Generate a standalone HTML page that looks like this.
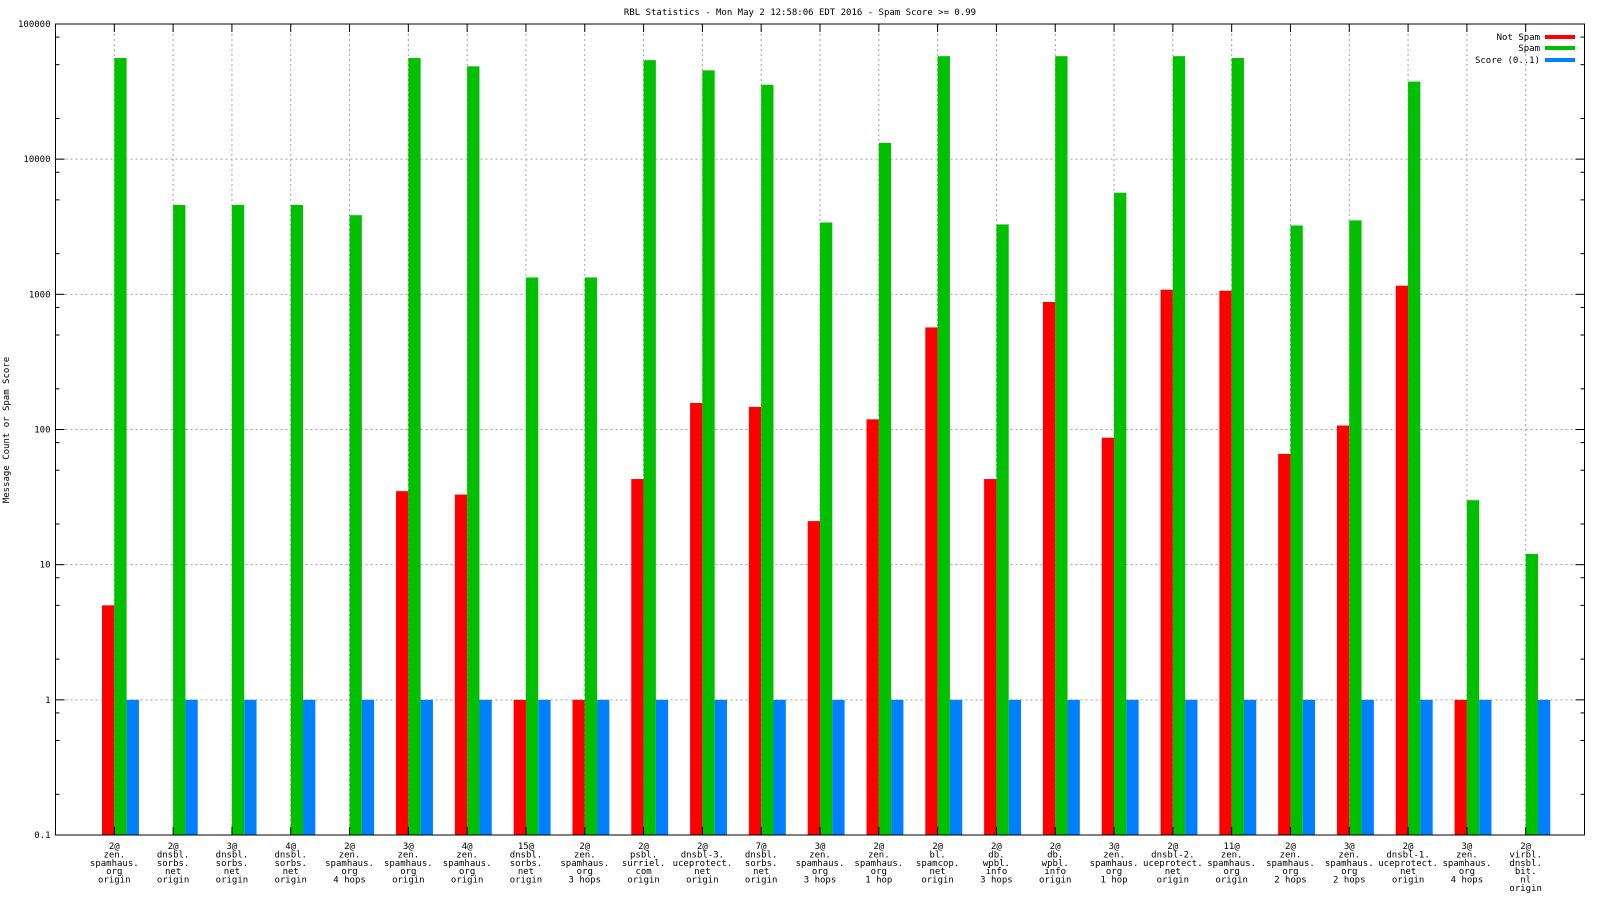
<!DOCTYPE html>
<html><head><meta charset="utf-8"><style>
html,body{margin:0;padding:0;background:#fff;}
svg text{font-family:"DejaVu Sans Mono","Liberation Mono",monospace;font-size:9px;fill:#000;}
</style></head><body>
<svg id="chart" width="1600" height="900" xmlns="http://www.w3.org/2000/svg">
<text x="800" y="15" text-anchor="middle">RBL Statistics - Mon May  2 12:58:06 EDT 2016 - Spam Score &gt;= 0.99</text>
<text transform="translate(9,430) rotate(-90)" text-anchor="middle">Message Count or Spam Score</text>
<g id="grid"></g><g id="bars"></g><g id="axes"></g><g id="labels"></g>
<g>
<text x="1540" y="40" text-anchor="end">Not Spam</text>
<rect x="1545" y="35" width="30" height="4" fill="#ff0000"/>
<text x="1540" y="51" text-anchor="end">Spam</text>
<rect x="1545" y="46" width="30" height="4" fill="#00c000"/>
<text x="1540" y="63" text-anchor="end">Score (0..1)</text>
<rect x="1545" y="58" width="30" height="4" fill="#0080ff"/>
</g>
</svg>
<script>
const categories=[
["2@","zen.","spamhaus.","org","origin"],["2@","dnsbl.","sorbs.","net","origin"],["3@","dnsbl.","sorbs.","net","origin"],["4@","dnsbl.","sorbs.","net","origin"],["2@","zen.","spamhaus.","org","4 hops"],["3@","zen.","spamhaus.","org","origin"],["4@","zen.","spamhaus.","org","origin"],["15@","dnsbl.","sorbs.","net","origin"],["2@","zen.","spamhaus.","org","3 hops"],["2@","psbl.","surriel.","com","origin"],["2@","dnsbl-3.","uceprotect.","net","origin"],["7@","dnsbl.","sorbs.","net","origin"],["3@","zen.","spamhaus.","org","3 hops"],["2@","zen.","spamhaus.","org","1 hop"],["2@","bl.","spamcop.","net","origin"],["2@","db.","wpbl.","info","3 hops"],["2@","db.","wpbl.","info","origin"],["3@","zen.","spamhaus.","org","1 hop"],["2@","dnsbl-2.","uceprotect.","net","origin"],["11@","zen.","spamhaus.","org","origin"],["2@","zen.","spamhaus.","org","2 hops"],["3@","zen.","spamhaus.","org","2 hops"],["2@","dnsbl-1.","uceprotect.","net","origin"],["3@","zen.","spamhaus.","org","4 hops"],["2@","virbl.","dnsbl.","bit.","nl","origin"]];
const notSpam=[5,0,0,0,0,35,33,1,1,43,157,147,21,119,569,43,878,87,1082,1063,66,107,1158,1,0];
const spam=[56000,4580,4580,4580,3850,56000,48600,1333,1333,54000,45400,35500,3400,13200,57800,3290,57800,5640,57800,56000,3230,3525,37500,30,12];
const score=[1,1,1,1,1,1,1,1,1,1,1,1,1,1,1,1,1,1,1,1,1,1,1,1,1];
const yTickLabels=["0.1","1","10","100","1000","10000","100000"];
const yTickValues=[0.1,1,10,100,1000,10000,100000];

const NS="http://www.w3.org/2000/svg";
const L=55.5,R=1584.5,T=24,B=835;
const slot=(R-L)/26, bw=12.3;
function xc(i){return L+slot*(i+1);}
function y(v){return B-(Math.log10(v)-Math.log10(0.1))*(B-T)/6;}
function mk(tag,attrs,parent){const e=document.createElementNS(NS,tag);for(const k in attrs)e.setAttribute(k,attrs[k]);document.getElementById(parent).appendChild(e);return e;}
for(let i=0;i<categories.length;i++){
 const g=mk('line',{x1:xc(i),x2:xc(i),y1:T,y2:B,stroke:'#a0a0a0','stroke-dasharray':'2,3','stroke-width':1},'grid');
 
 
}
yTickValues.forEach(v=>{
 if(v===0.1||v===100000)return;
 const g=mk('line',{x1:L,x2:R,y1:y(v),y2:y(v),stroke:'#a0a0a0','stroke-dasharray':'2,3','stroke-width':1},'grid');
 
 
});
const series=[[notSpam,'#ff0000','not-spam',-1],[spam,'#00c000','spam',0],[score,'#0080ff','score',1]];
series.forEach(([arr,col,nm,off])=>{
 arr.forEach((v,i)=>{
  if(!(v>0))return;
  const top=y(v);
  const r=mk('rect',{x:xc(i)+off*bw,y:top,width:bw,height:B-top,fill:col},'bars');
  
  
 });
});
const fr=mk('rect',{x:L,y:T,width:R-L,height:B-T,fill:'none',stroke:'#000','stroke-width':1},'axes');


yTickValues.forEach((v,k)=>{
 const yy=y(v);
 mk('line',{x1:L,x2:L+9,y1:yy,y2:yy,stroke:'#000'},'axes');
 mk('line',{x1:R-9,x2:R,y1:yy,y2:yy,stroke:'#000'},'axes');
 const t=mk('text',{x:L-5,y:yy+3,'text-anchor':'end'},'axes');
 t.textContent=yTickLabels[k];
 
 
 if(k<yTickValues.length-1){[2,5,8].forEach(m=>{const my=y(v*m);
  mk('line',{x1:L,x2:L+4,y1:my,y2:my,stroke:'#000'},'axes');
  mk('line',{x1:R-4,x2:R,y1:my,y2:my,stroke:'#000'},'axes');});}
});
categories.forEach((lines,i)=>{
 mk('line',{x1:xc(i),x2:xc(i),y1:T,y2:T+8,stroke:'#000'},'axes');
 mk('line',{x1:xc(i),x2:xc(i),y1:B-8,y2:B,stroke:'#000'},'axes');
 const t=mk('text',{x:xc(i),y:849,'text-anchor':'middle'},'labels');
 
 
 lines.forEach((s,j)=>{const ts=document.createElementNS(NS,'tspan');ts.setAttribute('x',xc(i));ts.setAttribute('dy',j?8.4:0);ts.textContent=s;t.appendChild(ts);});
});
</script>
</body></html>
